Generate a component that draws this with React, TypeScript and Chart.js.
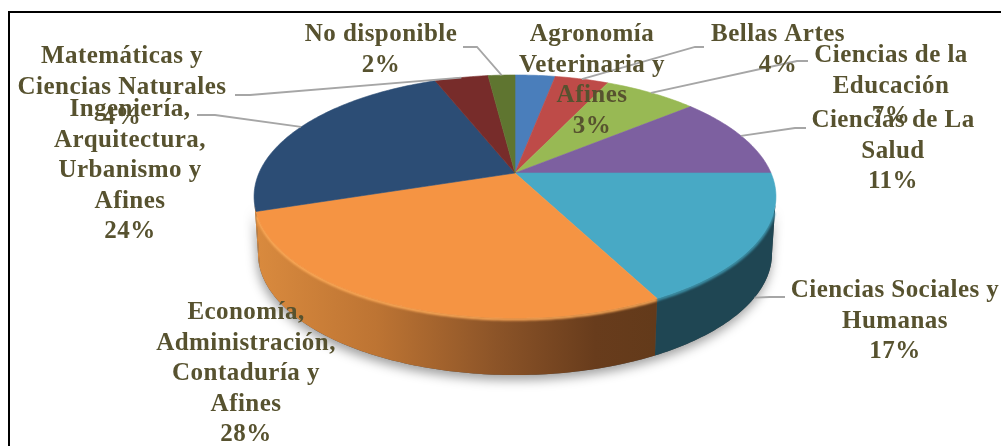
import React, { useEffect, useRef } from "react";
import { Chart, registerables } from "chart.js";

Chart.register(...registerables);

// ---- data ----
const categories = [
  "Agronomía Veterinaria y Afines",
  "Bellas Artes",
  "Ciencias de la Educación",
  "Ciencias de La Salud",
  "Ciencias Sociales y Humanas",
  "Economía, Administración, Contaduría y Afines",
  "Ingeniería, Arquitectura, Urbanismo y Afines",
  "Matemáticas y Ciencias Naturales",
  "No disponible",
];
const values = [3, 4, 7, 11, 17.4, 27.6, 24, 4, 2];
const colors = ["#4a7ebb", "#be4b48", "#98b954", "#7d60a0", "#48a9c5", "#f59443", "#2c4d75", "#772c2a", "#5f7530"];
const labelLines = [
  ["Agronomía", "Veterinaria y", "Afines", "3%"],
  ["Bellas Artes", "4%"],
  ["Ciencias de la", "Educación", "7%"],
  ["Ciencias de La", "Salud", "11%"],
  ["Ciencias Sociales y", "Humanas", "17%"],
  ["Economía,", "Administración,", "Contaduría y", "Afines", "28%"],
  ["Ingeniería,", "Arquitectura,", "Urbanismo y", "Afines", "24%"],
  ["Matemáticas y", "Ciencias Naturales", "4%"],
  ["No disponible", "2%"],
];

// ---- layout (label placement: centre x, first baseline) ----
const labelPlace = [
  [592, 41], [778, 41], [891, 62], [893, 127], [895, 297], [246, 319], [130, 116], [122, 63], [381, 41],
];
const lineHeight = 30.6;
// leader line start + elbow per slice (null = no leader)
const leaders: (number[][] | null)[] = [
  null,
  [[704, 47], [695, 47]],
  [[808, 61], [797, 61]],
  [[806, 128], [795, 128]],
  [[785, 297], [770, 297]],
  null,
  [[197, 115], [215, 115]],
  [[235, 95], [250, 95]],
  [[463, 47], [477, 47]],
];

// ---- 3D projection of the pie disc ----
const PERSP = 0.1935;
const MINOR = 117;
const DEPTH = 57;
const TAPER = 0.985;
const VIS = Math.asin(PERSP);

function project(arc: any, a: number, low = 0) {
  const w = 1 - PERSP * Math.sin(a);
  const dx = (arc.outerRadius * Math.cos(a)) / w;
  const dy = (MINOR * Math.sin(a)) / w;
  return { x: arc.x + dx * (low ? TAPER : 1), y: arc.y + dy + low };
}

function topPath(ctx: CanvasRenderingContext2D, arc: any) {
  ctx.beginPath();
  ctx.moveTo(arc.x, arc.y);
  const n = Math.max(4, Math.ceil((arc.endAngle - arc.startAngle) * 60));
  for (let i = 0; i <= n; i++) {
    const p = project(arc, arc.startAngle + ((arc.endAngle - arc.startAngle) * i) / n);
    ctx.lineTo(p.x, p.y);
  }
  ctx.closePath();
}

function wallRange(arc: any) {
  const s = Math.max(arc.startAngle, VIS);
  const e = Math.min(arc.endAngle, Math.PI - VIS);
  return e > s ? [s, e] : null;
}

function wallPath(ctx: CanvasRenderingContext2D, arc: any, s: number, e: number) {
  const n = Math.max(4, Math.ceil((e - s) * 60));
  ctx.beginPath();
  for (let i = 0; i <= n; i++) {
    const p = project(arc, s + ((e - s) * i) / n);
    i ? ctx.lineTo(p.x, p.y) : ctx.moveTo(p.x, p.y);
  }
  for (let i = n; i >= 0; i--) {
    const p = project(arc, s + ((e - s) * i) / n, DEPTH);
    ctx.lineTo(p.x, p.y);
  }
  ctx.closePath();
}

const pie3d = {
  id: "pie3d",
  beforeDatasetsDraw(chart: any) {
    const ctx: CanvasRenderingContext2D = chart.ctx;
    const arcs = chart.getDatasetMeta(0).data;
    const first = arcs[0];

    // soft ground shadow
    ctx.save();
    ctx.shadowColor = "rgba(0,0,0,0.38)";
    ctx.shadowBlur = 11;
    ctx.shadowOffsetY = 5;
    ctx.shadowOffsetX = -1;
    ctx.fillStyle = "#555";
    wallPath(ctx, first, VIS, Math.PI - VIS);
    ctx.fill();
    ctx.restore();

    // walls
    arcs.forEach((arc: any, i: number) => {
      const r = wallRange(arc);
      if (!r) return;
      ctx.save();
      if (i === 5) {
        const g = ctx.createLinearGradient(arc.x - 258, 0, arc.x + 140, 0);
        g.addColorStop(0, "#d98a3e");
        g.addColorStop(0.3, "#bd7433");
        g.addColorStop(0.6, "#8c5428");
        g.addColorStop(0.85, "#683c1c");
        g.addColorStop(1, "#633a1a");
        ctx.fillStyle = g;
      } else if (i === 4) {
        ctx.fillStyle = "#1f4653";
      } else {
        ctx.fillStyle = "#d98a3e";
      }
      wallPath(ctx, arc, r[0], r[1]);
      ctx.fill();
      ctx.restore();
    });

    // rim bevel
    arcs.forEach((arc: any, i: number) => {
      const r = wallRange(arc);
      if (!r || i > 5) return;
      ctx.save();
      ctx.filter = "blur(1.2px)";
      ctx.lineWidth = 3;
      ctx.strokeStyle = i === 5 ? "#fdaa58" : "#3f96ae";
      ctx.beginPath();
      const s = i === 4 ? r[0] + 0.12 : r[0];
      const e = i === 5 ? r[1] - 0.03 : r[1];
      const n = Math.ceil((e - s) * 60);
      for (let k = 0; k <= n; k++) {
        const p = project(arc, s + ((e - s) * k) / n);
        k ? ctx.lineTo(p.x, p.y + 1) : ctx.moveTo(p.x, p.y + 1);
      }
      ctx.stroke();
      ctx.restore();
    });

    // top faces
    arcs.forEach((arc: any) => {
      ctx.save();
      ctx.fillStyle = arc.options.backgroundColor;
      ctx.strokeStyle = arc.options.backgroundColor;
      ctx.lineWidth = 0.6;
      topPath(ctx, arc);
      ctx.fill();
      ctx.stroke();
      ctx.restore();
    });

    return false;
  },
  afterDraw(chart: any) {
    const ctx: CanvasRenderingContext2D = chart.ctx;
    const arcs = chart.getDatasetMeta(0).data;

    // leader lines
    ctx.save();
    ctx.strokeStyle = "#a6a6a6";
    ctx.lineWidth = 1.8;
    arcs.forEach((arc: any, i: number) => {
      const l = leaders[i];
      if (!l) return;
      const mid = (arc.startAngle + arc.endAngle) / 2;
      const end = project(arc, mid, Math.sin(mid) > PERSP ? DEPTH : 0);
      ctx.beginPath();
      ctx.moveTo(l[0][0], l[0][1]);
      ctx.lineTo(l[1][0], l[1][1]);
      ctx.lineTo(end.x, end.y);
      ctx.stroke();
    });
    ctx.restore();

    // labels
    ctx.save();
    ctx.font = 'bold 25px "Liberation Serif"';
    (ctx as any).letterSpacing = "0.45px";
    ctx.fillStyle = "#57522f";
    ctx.textAlign = "center";
    ctx.textBaseline = "alphabetic";
    labelLines.forEach((lines, i) => {
      const [x, y] = labelPlace[i];
      lines.forEach((t, k) => ctx.fillText(t, x, y + k * lineHeight));
    });
    ctx.restore();
  },
};

export default function App() {
  const ref = useRef<HTMLCanvasElement>(null);
  useEffect(() => {
    const chart = new Chart(ref.current as HTMLCanvasElement, {
      type: "pie",
      data: {
        labels: categories,
        datasets: [{ data: values, backgroundColor: colors, borderWidth: 0 }],
      },
      options: {
        animation: false,
        responsive: false,
        radius: 256,
        layout: { padding: { left: 29, bottom: 100 } },
        plugins: { legend: { display: false }, tooltip: { enabled: false } },
      } as any,
      plugins: [pie3d as any],
    });
    return () => chart.destroy();
  }, []);
  return (
    <div style={{ position: "fixed", left: 0, top: 0, width: 1001, height: 446, overflow: "hidden", background: "#fff" }}>
      <canvas ref={ref} width={1001} height={446} style={{ position: "absolute", left: 0, top: 0, display: "block", filter: "blur(0.4px)" }} />
      <div style={{ position: "absolute", left: 8, top: 11, width: 1200, height: 600, border: "2px solid #000", boxSizing: "border-box" }} />
    </div>
  );
}
